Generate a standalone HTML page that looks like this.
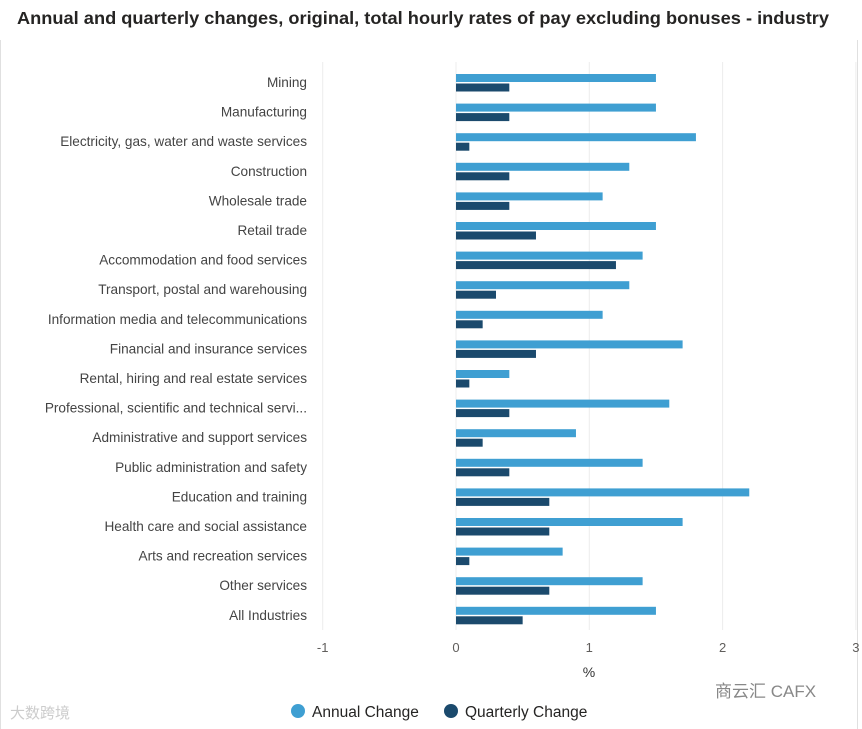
<!DOCTYPE html>
<html><head><meta charset="utf-8"><style>
body{margin:0;background:#fff;font-family:"Liberation Sans","Noto Sans CJK SC",sans-serif;}
#wrap{position:relative;width:862px;height:729px;overflow:hidden;}
</style></head><body>
<div id="wrap">
<svg id="chart" width="862" height="729" xmlns="http://www.w3.org/2000/svg">
<line x1="0.5" y1="40" x2="0.5" y2="729" stroke="#e0e0e0"/>
<line x1="857.5" y1="40" x2="857.5" y2="729" stroke="#e0e0e0"/>
<text x="17" y="24" font-size="17.6" font-weight="bold" fill="#252423" textLength="812" lengthAdjust="spacingAndGlyphs">Annual and quarterly changes, original, total hourly rates of pay excluding bonuses - industry</text>
<g id="grid"></g><g id="bars"></g><g id="labels"></g><g id="ticks"></g>
<text x="589" y="677" font-size="14" fill="#333" text-anchor="middle">%</text>
<g>
<circle cx="298" cy="711" r="7" fill="#3f9fd2"/>
<text x="312" y="717" font-size="15.5" fill="#252423">Annual Change</text>
<circle cx="451" cy="711" r="7" fill="#1b4a6d"/>
<text x="465" y="717" font-size="15.5" fill="#252423">Quarterly Change</text>
</g>
<text x="10" y="718" font-size="15" fill="#ccc">大数跨境</text>
<text x="715" y="697" font-size="17" fill="#888">商云汇 CAFX</text>
</svg>
</div>
<script>
const categories=["Mining","Manufacturing","Electricity, gas, water and waste services","Construction","Wholesale trade","Retail trade","Accommodation and food services","Transport, postal and warehousing","Information media and telecommunications","Financial and insurance services","Rental, hiring and real estate services","Professional, scientific and technical servi...","Administrative and support services","Public administration and safety","Education and training","Health care and social assistance","Arts and recreation services","Other services","All Industries"];
const annualChange=[1.5,1.5,1.8,1.3,1.1,1.5,1.4,1.3,1.1,1.7,0.4,1.6,0.9,1.4,2.2,1.7,0.8,1.4,1.5];
const quarterlyChange=[0.4,0.4,0.1,0.4,0.4,0.6,1.2,0.3,0.2,0.6,0.1,0.4,0.2,0.4,0.7,0.7,0.1,0.7,0.5];
const tickValues=[-1,0,1,2,3];
const NS="http://www.w3.org/2000/svg";
const x=v=>456+(v)*133.3;
const rowY=i=>82+i*29.6;
function mk(tag,attrs,parent){const e=document.createElementNS(NS,tag);for(const k in attrs)e.setAttribute(k,attrs[k]);document.getElementById(parent).appendChild(e);return e;}
tickValues.forEach(t=>{
 const g=mk('line',{x1:x(t),x2:x(t),y1:62,y2:630,stroke:'#ececec'},'grid');
 
 
 const tx=mk('text',{x:x(t),y:652,'font-size':13,fill:'#605e5c','text-anchor':'middle'},'ticks');
 tx.textContent=t;
 
 
});
categories.forEach((c,i)=>{
 const y=rowY(i);
 const l=mk('text',{x:307,y:y+5,'font-size':13.6,fill:'#444','text-anchor':'end'},'labels');
 l.textContent=c;
 
 
 const a=annualChange[i],q=quarterlyChange[i];
 const b1=mk('rect',{x:Math.min(x(0),x(a)),y:y-8,width:Math.abs(x(a)-x(0)),height:8,fill:'#3f9fd2'},'bars');
 
 
 const b2=mk('rect',{x:Math.min(x(0),x(q)),y:y+1.5,width:Math.abs(x(q)-x(0)),height:8,fill:'#1b4a6d'},'bars');
 
 
});
</script>
</body></html>
